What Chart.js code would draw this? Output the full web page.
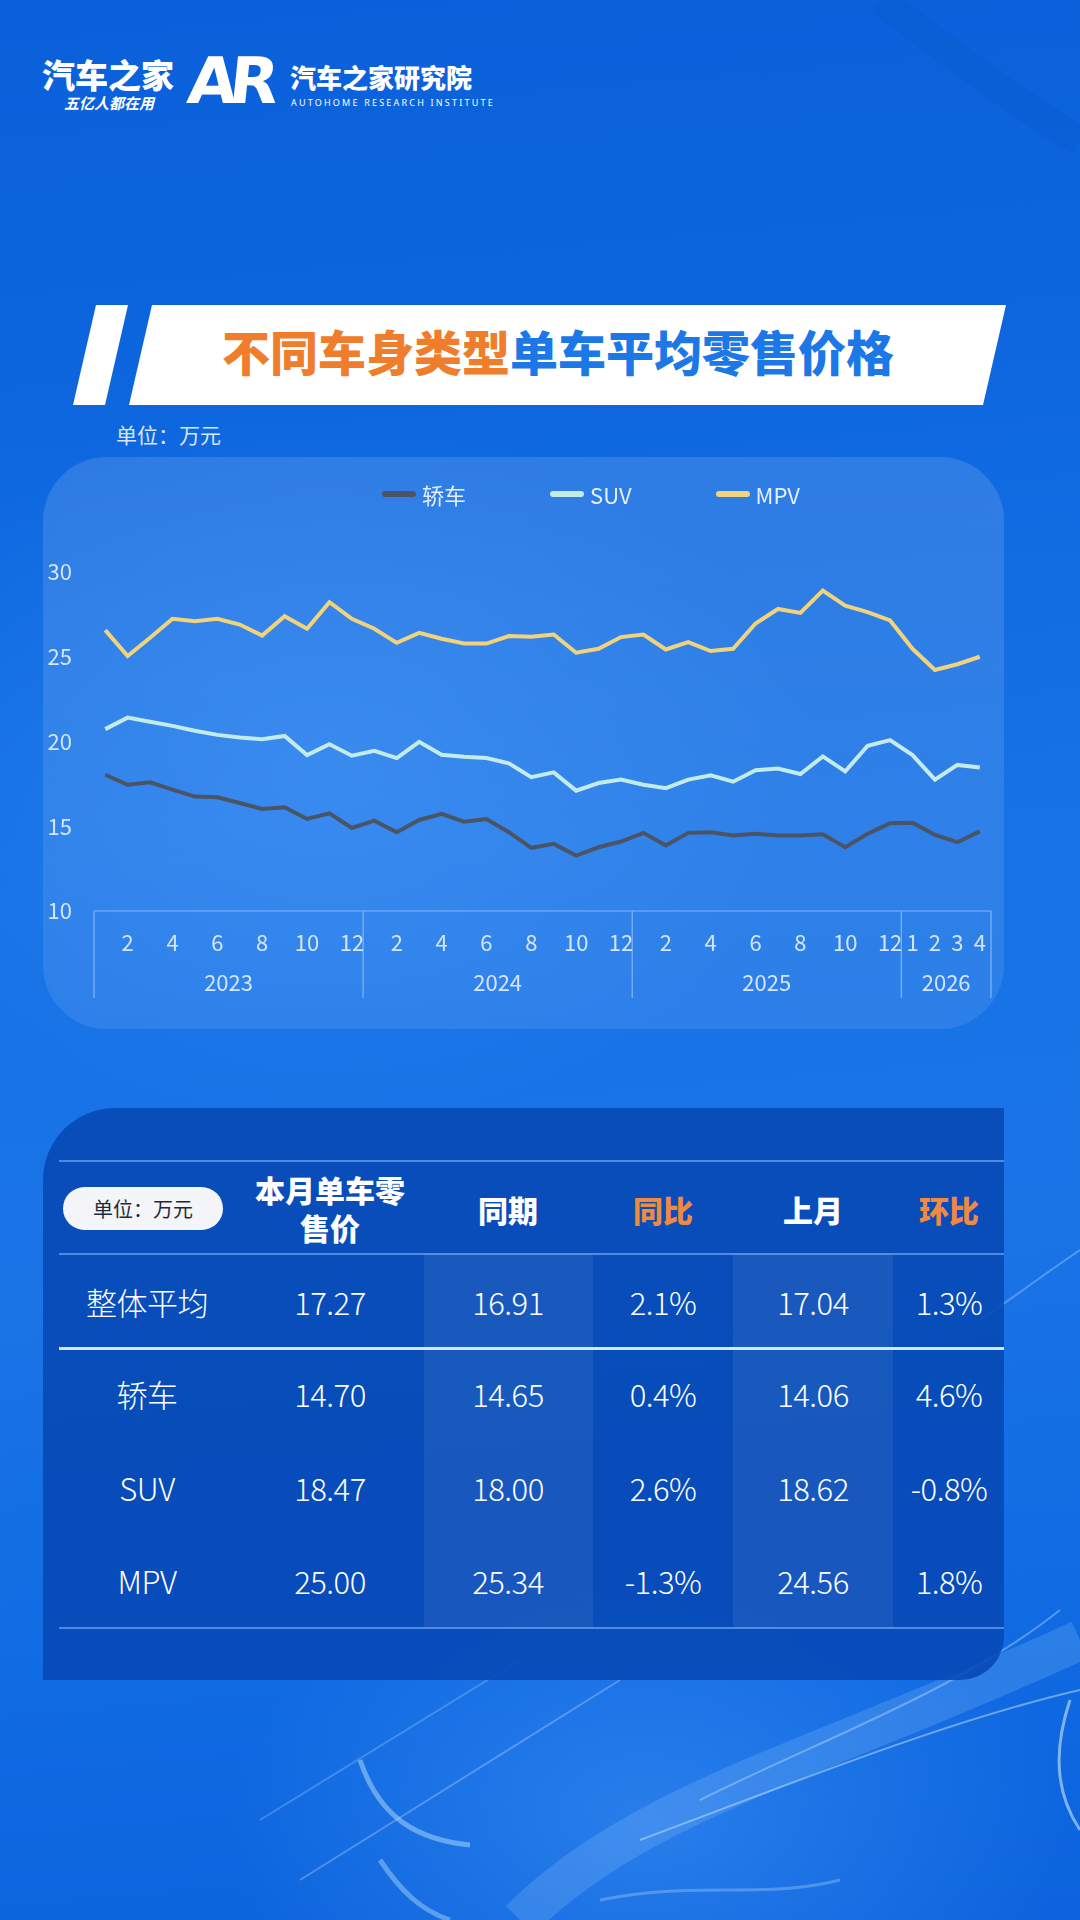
<!DOCTYPE html>
<html>
<head>
<meta charset="utf-8">
<script src="https://cdn.jsdelivr.net/npm/chart.js@4.4.1/dist/chart.umd.min.js"></script>
<style>
html, body { margin: 0; padding: 0; }
body {
  width: 1080px; height: 1920px; position: relative; overflow: hidden;
  font-family: "Noto Sans CJK SC", "Noto Sans", sans-serif;
  background:
    radial-gradient(ellipse 700px 500px at 30% 40%, rgba(60,150,255,0.35), rgba(60,150,255,0) 70%),
    radial-gradient(ellipse 600px 400px at 60% 95%, rgba(90,170,255,0.35), rgba(90,170,255,0) 70%),
    linear-gradient(175deg, #0a60da 0%, #0d66de 20%, #1672e6 45%, #1a74e6 65%, #106ae2 85%, #0c63dd 100%);
}
#deco { position: absolute; left: 0; top: 0; width: 1080px; height: 1920px; pointer-events: none; }
.abs { position: absolute; }
.logo1 { left: 42px; top: 50px; color: #fff; font-size: 33px; font-weight: 900; letter-spacing: 0px; }
.logo1s { left: 64px; top: 92px; color: #fff; font-size: 15px; font-style: italic; font-weight: 700; }
.ar { left: 188px; top: 44px; color: #fff; font-size: 64px; font-weight: 900; font-family: "DejaVu Sans", sans-serif; letter-spacing: -8px; transform: skewX(-6deg); }
.logo2 { left: 290px; top: 58px; color: #fff; font-size: 26px; font-weight: 900; }
.logo2s { left: 291px; top: 96px; color: #fff; font-size: 9px; letter-spacing: 2.2px; font-family: "Noto Sans", sans-serif; }
.title { left: 222px; top: 320px; font-size: 48px; font-weight: 900; line-height: 60px; white-space: nowrap; }
.title .o { color: #f07d2b; }
.title .b { color: #1c78e6; }
.unit { left: 116px; top: 419px; color: #d9e6f8; font-size: 21px; }
#chartPanel {
  left: 43px; top: 457px; width: 961px; height: 572px; border-radius: 64px;
  background: linear-gradient(180deg, rgba(255,255,255,0.13), rgba(255,255,255,0.09));
}
#chartBox { left: 43px; top: 457px; width: 961px; height: 572px; }
#legend { left: 382px; top: 478px; display: flex; align-items: center; color: #e6efff; font-size: 22px; }
#legend .item { display: flex; align-items: center; margin-right: 84px; }
#legend .sw { width: 34px; height: 6px; border-radius: 3px; margin-right: 6px; }
#tablePanel {
  left: 43px; top: 1108px; width: 961px; height: 572px;
  border-radius: 72px 0 44px 0; background: rgba(6,72,180,0.88); overflow: hidden;
}
.band { position: absolute; top: 146px; height: 374px; background: rgba(255,255,255,0.07); }
.hline { position: absolute; left: 16px; width: 945px; }
.cell { position: absolute; text-align: center; color: #fff; white-space: nowrap; }
.hd { font-weight: 900; font-size: 30px; line-height: 38px; }
.hd.or { color: #f08a3e; }
.dv { font-size: 31px; font-weight: 300; letter-spacing: -0.5px; }
.pill { position: absolute; left: 20px; top: 79px; width: 160px; height: 43px; border-radius: 22px; background: #f3f5f9; color: #1f2a3a; font-size: 20px; line-height: 43px; text-align: center; }
</style>
</head>
<body>

<svg id="deco" viewBox="0 0 1080 1920">
  <path d="M880 0 C 960 60, 1040 120, 1080 140" stroke="rgba(0,40,120,0.05)" stroke-width="30" fill="none"/>
  <path d="M520 1920 C 640 1800, 820 1760, 1080 1640" stroke="rgba(150,200,255,0.22)" stroke-width="40" fill="none"/>
  <path d="M640 1840 C 800 1780, 950 1720, 1080 1690" stroke="rgba(220,240,255,0.45)" stroke-width="2" fill="none"/>
  <path d="M700 1800 C 820 1740, 960 1690, 1060 1610" stroke="rgba(220,240,255,0.35)" stroke-width="2" fill="none"/>
  <path d="M360 1760 C 380 1820, 420 1840, 470 1845" stroke="rgba(200,230,255,0.45)" stroke-width="5" fill="none"/>
  <path d="M380 1860 C 400 1890, 420 1910, 450 1920" stroke="rgba(200,230,255,0.4)" stroke-width="5" fill="none"/>
  <path d="M300 1880 L 620 1680" stroke="rgba(200,210,255,0.35)" stroke-width="2" fill="none"/>
  <path d="M260 1820 L 520 1660" stroke="rgba(200,230,255,0.25)" stroke-width="2" fill="none"/>
  <path d="M600 1900 C 700 1880, 760 1900, 840 1880" stroke="rgba(200,230,255,0.3)" stroke-width="3" fill="none"/>
  <path d="M1070 1700 C 1050 1760, 1060 1800, 1080 1830" stroke="rgba(220,240,255,0.55)" stroke-width="3" fill="none"/>
  <path d="M980 1320 C 1010 1300, 1050 1270, 1080 1250" stroke="rgba(220,240,255,0.3)" stroke-width="2" fill="none"/>
  <!-- title banner -->
  <polygon points="96,305 128,305 105,405 73,405" fill="#ffffff"/>
  <polygon points="152,305 1006,305 983,405 129,405" fill="#ffffff"/>
</svg>

<div class="abs logo1">汽车之家</div>
<div class="abs logo1s">五亿人都在用</div>
<div class="abs ar">AR</div>
<div class="abs logo2">汽车之家研究院</div>
<div class="abs logo2s">AUTOHOME RESEARCH INSTITUTE</div>

<div class="abs title"><span class="o">不同车身类型</span><span class="b">单车平均零售价格</span></div>
<div class="abs unit">单位：万元</div>

<div class="abs" id="chartPanel"></div>
<div class="abs" id="chartBox"><canvas id="myChart"></canvas></div>
<div class="abs" id="legend"></div>

<div class="abs" id="tablePanel"></div>

<script>
// categories
var yearLabels = ['2023', '2024', '2025', '2026'];
var monthsPerYear = [12, 12, 12, 4];
var monthLabels = [
  '1','2','3','4','5','6','7','8','9','10','11','12',
  '1','2','3','4','5','6','7','8','9','10','11','12',
  '1','2','3','4','5','6','7','8','9','10','11','12',
  '1','2','3','4'
];
var yTicks = [10, 15, 20, 25, 30];

// series, 万元
var seriesNames = ['轿车', 'SUV', 'MPV'];
var sedan = [18.04, 17.45, 17.59, 17.16, 16.75, 16.71, 16.37, 16.02, 16.12, 15.43, 15.76, 14.90,
             15.33, 14.65, 15.37, 15.73, 15.27, 15.43, 14.65, 13.73, 13.96, 13.27, 13.76, 14.10,
             14.61, 13.86, 14.61, 14.65, 14.45, 14.55, 14.45, 14.45, 14.53, 13.76, 14.55, 15.18,
             15.20, 14.49, 14.06, 14.70];
var suv = [20.73, 21.41, 21.16, 20.92, 20.63, 20.39, 20.24, 20.14, 20.33, 19.20, 19.84, 19.16,
           19.45, 19.02, 19.98, 19.22, 19.10, 19.02, 18.71, 17.90, 18.18, 17.10, 17.55, 17.75,
           17.45, 17.25, 17.75, 18.00, 17.63, 18.31, 18.41, 18.08, 19.12, 18.24, 19.75, 20.08,
           19.20, 17.75, 18.62, 18.47];
var mpv = [26.57, 25.04, 26.12, 27.24, 27.10, 27.24, 26.90, 26.25, 27.39, 26.65, 28.22, 27.24,
           26.65, 25.82, 26.41, 26.06, 25.78, 25.78, 26.22, 26.18, 26.31, 25.24, 25.47, 26.16,
           26.31, 25.43, 25.86, 25.34, 25.47, 26.96, 27.82, 27.59, 28.90, 28.02, 27.63, 27.14,
           25.47, 24.22, 24.56, 25.00];
var lineColors = ['#4a5464', '#c3ebe7', '#f1d37b'];

// table
var tableHeaders = ['本月单车零<br>售价', '同期', '同比', '上月', '环比'];
var rowNames = ['整体平均', '轿车', 'SUV', 'MPV'];
var thisMonth = ['17.27', '14.70', '18.47', '25.00'];
var lastYear = ['16.91', '14.65', '18.00', '25.34'];
var yoy = ['2.1%', '0.4%', '2.6%', '-1.3%'];
var lastMonth = ['17.04', '14.06', '18.62', '24.56'];
var mom = ['1.3%', '4.6%', '-0.8%', '1.8%'];

// year group helpers (in category units)
var yearStart = [], yearCenters = [];
var acc = 0;
monthsPerYear.forEach(function (n) {
  yearStart.push(acc);
  yearCenters.push(acc + (n - 1) / 2);
  acc += n;
});
function yearOf(i) {
  for (var k = yearStart.length - 1; k >= 0; k--) if (i >= yearStart[k]) return yearLabels[k];
}

var tickColor = 'rgba(228,238,255,0.92)';
var lineGrey = 'rgba(200,222,255,0.55)';
var tickFont = { size: 22, family: '"Noto Sans CJK SC", "Noto Sans", sans-serif' };

// draws the box round the two-level x axis
var axisBox = {
  id: 'axisBox',
  afterDraw: function (chart) {
    var ctx = chart.ctx, a = chart.chartArea, x = chart.scales.x;
    var bottom = a.bottom + 87;
    ctx.save();
    ctx.strokeStyle = lineGrey;
    ctx.lineWidth = 1.2;
    ctx.beginPath();
    ctx.moveTo(a.left, a.bottom);
    ctx.lineTo(a.right, a.bottom);
    var cuts = [a.left, a.right];
    for (var k = 1; k < yearStart.length; k++) {
      var i = yearStart[k];
      cuts.push((x.getPixelForValue(i - 1) + x.getPixelForValue(i)) / 2);
    }
    cuts.forEach(function (px) {
      ctx.moveTo(px, a.bottom);
      ctx.lineTo(px, bottom);
    });
    ctx.stroke();
    ctx.restore();
  }
};

var ctx = document.getElementById('myChart').getContext('2d');
var myChart = new Chart(ctx, {
  type: 'line',
  data: {
    labels: monthLabels,
    datasets: [sedan, suv, mpv].map(function (d, k) {
      return {
        label: seriesNames[k],
        data: d,
        borderColor: lineColors[k],
        backgroundColor: lineColors[k],
        borderWidth: 4,
        pointRadius: 0,
        tension: 0,
        xAxisID: 'x'
      };
    })
  },
  options: {
    responsive: true,
    maintainAspectRatio: false,
    animation: false,
    layout: { padding: { top: 115, left: 4, right: 8, bottom: 34 } },
    plugins: { legend: { display: false }, tooltip: { enabled: false } },
    scales: {
      x: {
        type: 'category',
        offset: true,
        weight: 0,
        grid: { display: false, drawTicks: false },
        border: { display: false },
        afterFit: function (axis) { axis.height = 44; },
        ticks: {
          autoSkip: false, maxRotation: 0, padding: 18, color: tickColor, font: tickFont,
          callback: function (v, i) {
            var m = monthLabels[i];
            return (yearOf(i) === '2026' || parseInt(m, 10) % 2 === 0) ? m : '';
          }
        }
      },
      xYear: {
        type: 'linear',
        position: 'bottom',
        weight: 1,
        min: -0.5,
        max: monthLabels.length - 0.5,
        grid: { display: false, drawTicks: false },
        border: { display: false },
        afterFit: function (axis) { axis.height = 40; },
        afterBuildTicks: function (axis) {
          axis.ticks = yearCenters.map(function (v) { return { value: v }; });
        },
        ticks: {
          autoSkip: false, maxRotation: 0, padding: 14, color: tickColor, font: tickFont,
          callback: function (v, i) { return yearLabels[i]; }
        }
      },
      y: {
        min: yTicks[0],
        max: yTicks[yTicks.length - 1],
        grid: { display: false, drawTicks: false },
        border: { display: false },
        afterFit: function (axis) { axis.width = 47; },
        ticks: {
          stepSize: yTicks[1] - yTicks[0], padding: 22, color: tickColor, font: tickFont
        }
      }
    }
  },
  plugins: [axisBox]
});

// legend from the datasets
var lg = document.getElementById('legend');
myChart.data.datasets.forEach(function (ds) {
  var it = document.createElement('div');
  it.className = 'item';
  it.innerHTML = '<span class="sw" style="background:' + ds.borderColor + '"></span><span>' + ds.label + '</span>';
  lg.appendChild(it);
});

// table
var tp = document.getElementById('tablePanel');
var colCenters = [104, 287, 465, 620, 770, 906];  // relative to panel
var bands = [[381, 169], [690, 160]];
var html = '';
bands.forEach(function (b) { html += '<div class="band" style="left:' + b[0] + 'px;width:' + b[1] + 'px"></div>'; });
html += '<div class="hline" style="top:52px;height:2px;background:rgba(110,165,240,0.7)"></div>';
html += '<div class="hline" style="top:145px;height:2px;background:rgba(110,165,240,0.7)"></div>';
html += '<div class="hline" style="top:239px;height:3px;background:#d2e6ff"></div>';
html += '<div class="hline" style="top:519px;height:2px;background:rgba(110,165,240,0.7)"></div>';
html += '<div class="pill">单位：万元</div>';
tableHeaders.forEach(function (h, k) {
  var cls = (h === '同比' || h === '环比') ? 'hd or' : 'hd';
  var top = h.indexOf('<br>') >= 0 ? 62 : 82;
  html += '<div class="cell ' + cls + '" style="left:' + (colCenters[k + 1] - 100) + 'px;width:200px;top:' + top + 'px">' + h + '</div>';
});
var rowCenters = [194, 286, 380, 473];
rowNames.forEach(function (r, i) {
  var vals = [r, thisMonth[i], lastYear[i], yoy[i], lastMonth[i], mom[i]];
  vals.forEach(function (v, k) {
    html += '<div class="cell dv" style="left:' + (colCenters[k] - 100) + 'px;width:200px;top:' + (rowCenters[i] - 22) + 'px;line-height:44px">' + v + '</div>';
  });
});
tp.innerHTML = html;
</script>
</body>
</html>
